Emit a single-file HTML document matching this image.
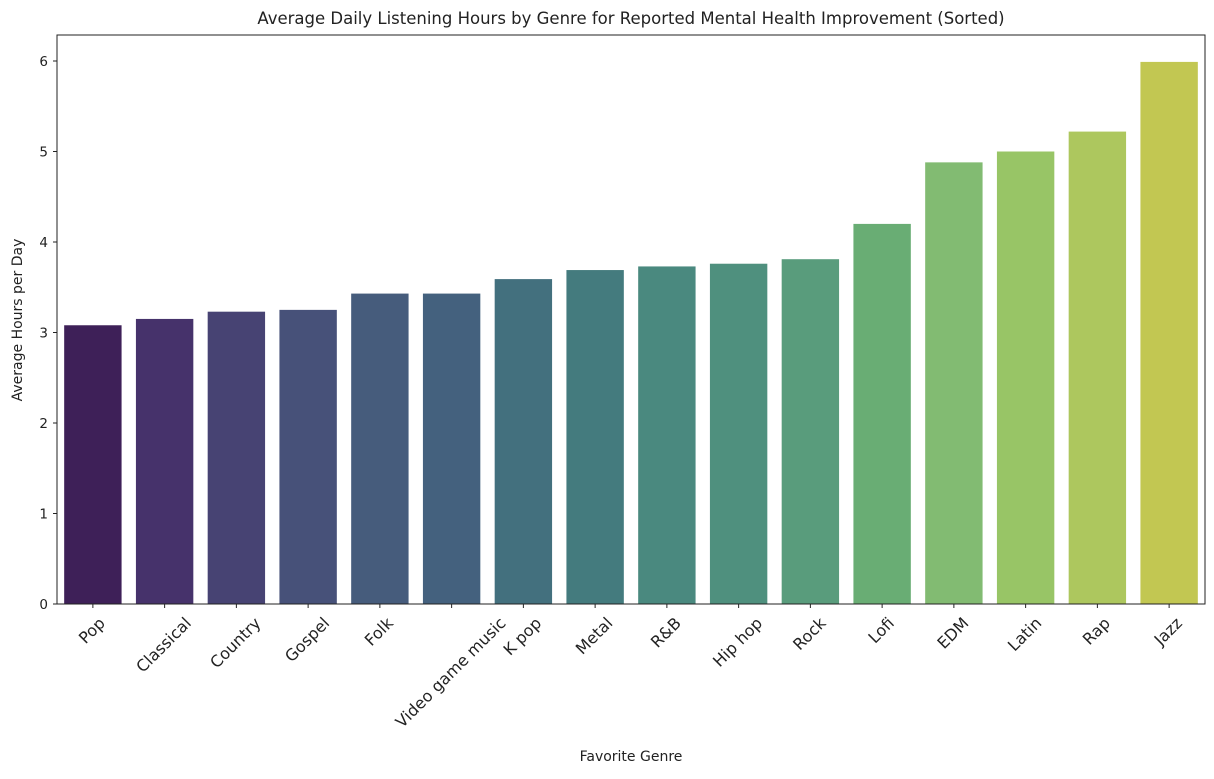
<!DOCTYPE html>
<html><head><meta charset="utf-8"><style>
body{margin:0;background:#fff;font-family:"Liberation Sans","DejaVu Sans",sans-serif;}
svg text{font-family:"DejaVu Sans","Liberation Sans",sans-serif;fill:#222;}
</style></head><body>
<svg id="chart" width="1214" height="774" viewBox="0 0 1214 774" xmlns="http://www.w3.org/2000/svg">
<rect width="1214" height="774" fill="#fff"/>
<text x="631" y="24" font-size="16.5" text-anchor="middle">Average Daily Listening Hours by Genre for Reported Mental Health Improvement (Sorted)</text>
<g id="bars"></g><g id="yaxis"></g><g id="xaxis"></g>
<rect x="57" y="35" width="1148" height="569" fill="none" stroke="#222" stroke-width="1"/>
<text transform="translate(22,320) rotate(-90)" font-size="14" text-anchor="middle">Average Hours per Day</text>
<text x="631" y="761" font-size="14" text-anchor="middle">Favorite Genre</text>
</svg>
<script>
const categories=["Pop","Classical","Country","Gospel","Folk","Video game music","K pop","Metal","R&B","Hip hop","Rock","Lofi","EDM","Latin","Rap","Jazz"];
const values=[3.08,3.15,3.23,3.25,3.43,3.43,3.59,3.69,3.73,3.76,3.81,4.2,4.88,5.0,5.22,5.99];
const colors=["#3e2058","#46326b","#474373","#475179","#465c7c","#44617e","#43707e","#447b7e","#4a897f","#4f907e","#599c7c","#69ad74","#82bb72","#98c566","#adc75e","#c2c752"];
const yTicks=[0,1,2,3,4,5,6];
const NS="http://www.w3.org/2000/svg";
const L=57,R=1205,B=604,T=35;
const yScale=v=>B-v*(B-61)/6;
const band=(R-L)/categories.length;
const xCenter=i=>L+band*(i+0.5);
const bars=document.getElementById('bars'),ya=document.getElementById('yaxis'),xa=document.getElementById('xaxis');
function mk(tag,attrs,parent){const e=document.createElementNS(NS,tag);for(const k in attrs)e.setAttribute(k,attrs[k]);parent.appendChild(e);return e;}
values.forEach((v,i)=>{
 const w=band*0.8;
 const r=mk('rect',{x:xCenter(i)-w/2,y:yScale(v),width:w,height:B-yScale(v),fill:colors[i]},bars);
 
 
 const t=mk('line',{x1:xCenter(i),x2:xCenter(i),y1:B,y2:B+4,stroke:'#222'},xa);
 
 
 const lb=mk('text',{'font-size':16,'text-anchor':'middle','dominant-baseline':'central'},xa);
 lb.textContent=categories[i];
 
 
 const len=lb.getComputedTextLength();
 const cy=B+12+(len*0.7071+12*0.7071)/2;
 lb.setAttribute('transform',`translate(${xCenter(i)-1},${cy}) rotate(-45)`);
});
yTicks.forEach(v=>{
 const t=mk('line',{x1:L-4,x2:L,y1:yScale(v),y2:yScale(v),stroke:'#222'},ya);
 
 
 const lb=mk('text',{x:L-9,y:yScale(v)+5,'font-size':13.5,'text-anchor':'end'},ya);
 lb.textContent=v;
 
 
});
</script>
</body></html>
